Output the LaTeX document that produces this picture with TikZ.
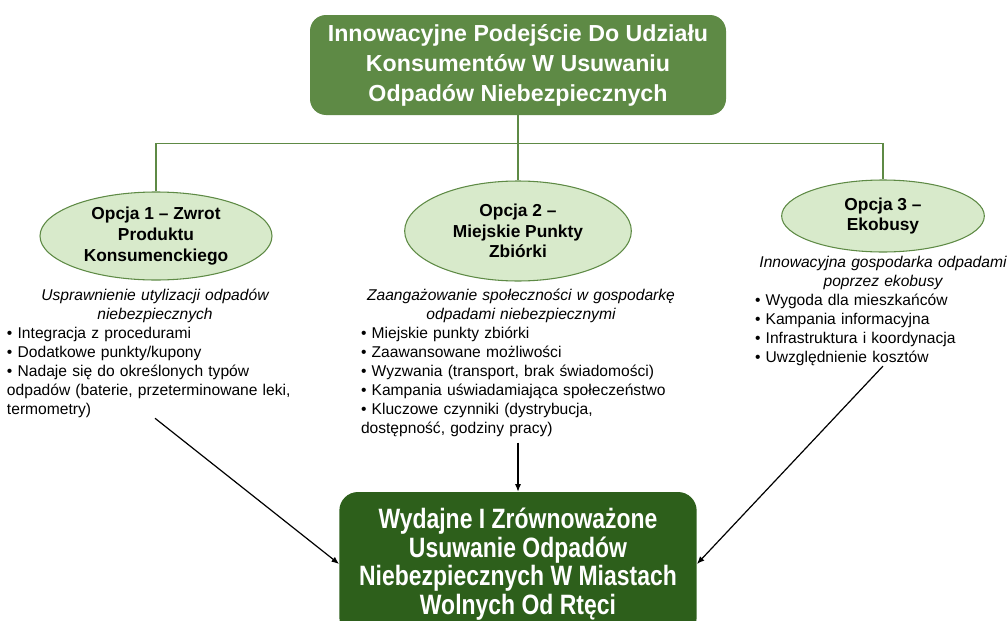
\documentclass[tikz,border=0pt]{standalone}
\usepackage{fontspec}
\setmainfont{Liberation Sans}
\newfontfamily\narrowsans[FakeStretch=0.82]{Liberation Sans}
\usetikzlibrary{arrows.meta,shapes.geometric}
\definecolor{leaf}{HTML}{5E8A45}
\definecolor{forest}{HTML}{2D5F1B}
\definecolor{mint}{HTML}{D8EACB}

\begin{document}
\begin{tikzpicture}[x=0.75pt,y=-0.75pt,
 head/.style={fill=leaf,rounded corners=12pt,text=white,align=center,
 font=\bfseries\fontsize{17.4}{22.5}\selectfont,minimum width=312pt,minimum height=75pt},
 goalbox/.style={fill=forest,rounded corners=14pt,text=white,align=center,
 font=\narrowsans\bfseries\fontsize{21}{21.5}\selectfont,minimum width=268pt,minimum height=108pt},
 option/.style={ellipse,draw=leaf,thick,fill=mint,align=center,inner sep=0pt,
 font=\bfseries\fontsize{13}{15.5}\selectfont},
 desc/.style={anchor=north,inner sep=0pt,font=\fontsize{11.7}{14.25}\selectfont},
 bus/.style={draw=leaf,line width=0.9pt},
 arr/.style={-{Latex[length=2mm,width=1.6mm]},line width=0.9pt}]
\useasboundingbox (0,0) rectangle (1007,621);

\node[head] (top) at (518,65) {Innowacyjne Podejście Do Udziału\\Konsumentów W Usuwaniu\\Odpadów Niebezpiecznych};

\node[option,minimum width=174pt,minimum height=66pt] (opt1) at (156,236) {Opcja 1 – Zwrot\\Produktu\\Konsumenckiego};
\node[option,minimum width=170pt,minimum height=75pt] (opt2) at (518,231) {Opcja 2 –\\Miejskie Punkty\\Zbiórki};
\node[option,minimum width=152pt,minimum height=54pt] (opt3) at (883,216) {Opcja 3 –\\Ekobusy};

% opisy opcji
\node[desc,text width=222pt] (desc1) at (155,289) {\centering\itshape Usprawnienie utylizacji odpadów\\niebezpiecznych\par
\raggedright\upshape • Integracja z procedurami\\• Dodatkowe punkty/kupony\\• Nadaje się do określonych typów\\odpadów (baterie, przeterminowane leki,\\termometry)\par};
\node[desc,text width=240pt] (desc2) at (521,289) {\centering\itshape Zaangażowanie społeczności w gospodarkę\\odpadami niebezpiecznymi\par
\raggedright\upshape • Miejskie punkty zbiórki\\• Zaawansowane możliwości\\• Wyzwania (transport, brak świadomości)\\• Kampania uświadamiająca społeczeństwo\\• Kluczowe czynniki (dystrybucja,\\dostępność, godziny pracy)\par};
\node[desc,text width=192pt] (desc3) at (883,256) {\centering\itshape Innowacyjna gospodarka odpadami\\poprzez ekobusy\par
\raggedright\upshape • Wygoda dla mieszkańców\\• Kampania informacyjna\\• Infrastruktura i koordynacja\\• Uwzględnienie kosztów\par};

\node[goalbox] (goal) at (518,564) {Wydajne I Zrównoważone\\Usuwanie Odpadów\\Niebezpiecznych W Miastach\\Wolnych Od Rtęci};

\draw[bus] (top.south) -- ++(0,28) coordinate (hub);
\draw[bus] (opt1.north) |- (hub) -| (opt3.north);
\draw[bus] (hub) -- (opt2.north);

\draw[arr] (desc1.south) -- (goal.west);
\draw[arr] ([yshift=-4]desc2.south -| goal.north) -- (goal.north);
\draw[arr] (desc3.south) -- (goal.east);
\end{tikzpicture}
\end{document}
